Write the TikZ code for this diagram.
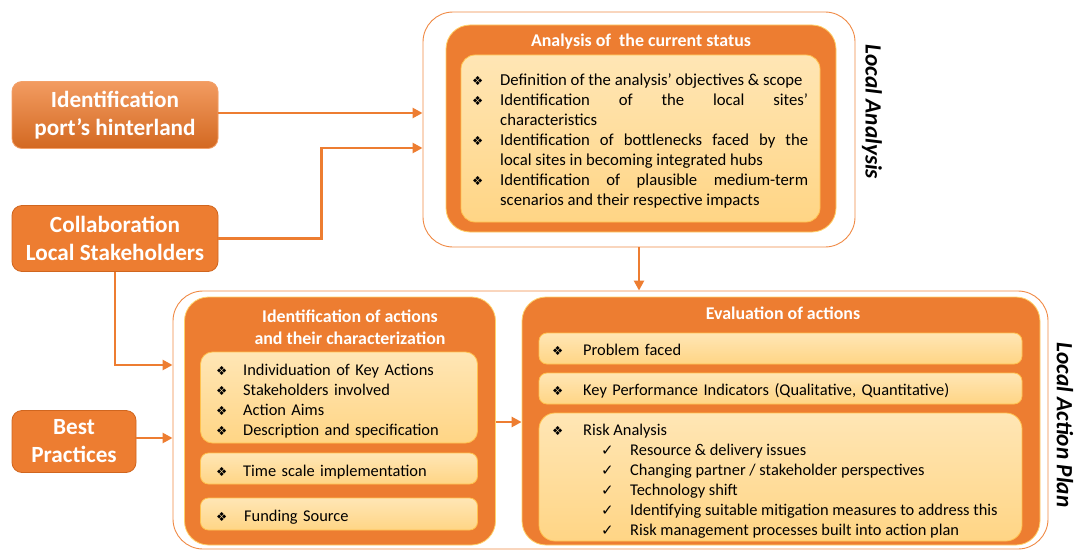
\documentclass[tikz,border=0pt]{standalone}
\usepackage{fontspec}
\setmainfont{Carlito}
\newfontfamily\djv{DejaVu Sans}
\usetikzlibrary{arrows.meta}
\definecolor{org}{HTML}{ED7D31}
\definecolor{orgline}{HTML}{F08A45}
\definecolor{orgdark}{HTML}{D0661F}
\definecolor{ltop}{HTML}{FFE6B5}
\definecolor{lbot}{HTML}{FFD585}
\definecolor{lborder}{HTML}{FFC24F}
\definecolor{orgborder}{HTML}{FFD36B}
\newcommand{\dia}{{\djv\fontsize{12.5}{12.5}\selectfont ❖}}
\newcommand{\chk}{{\djv\fontsize{15}{15}\selectfont ✓}}
\newcommand{\bodyfont}{\fontsize{16.4}{20}\selectfont\hyphenpenalty=10000\exhyphenpenalty=10000\tolerance=9999}
\newcommand{\ditem}[2]{\par\noindent\hangindent=#1\hangafter=1\makebox[#1][l]{\dia}#2\par}
\tikzset{
  outerbox/.style={draw=orgline, line width=0.9pt, fill=white, rounded corners=30pt, inner sep=0pt},
  orgbox/.style={draw=orgborder, line width=0.8pt, fill=org, rounded corners=24pt, inner sep=0pt},
  lightbox/.style={draw=lborder, line width=0.8pt, top color=ltop, bottom color=lbot, rounded corners=#1, inner sep=0pt},
  lightbox/.default=10pt,
  srcbox/.style={draw=orgdark, line width=0.8pt, fill=org, rounded corners=10pt, inner sep=0pt, align=center,
    text=white, font=\bfseries\fontsize{23.2}{28}\selectfont},
  titletext/.style={text=white, font=\bfseries\fontsize{17.9}{22}\selectfont, align=center, inner sep=0pt},
  bodytext/.style={font=\bodyfont, inner sep=0pt, anchor=north west},
  sidelabel/.style={rotate=-90, font=\bfseries\itshape\fontsize{23.3}{23.3}\selectfont, inner sep=0pt},
  arr/.style={draw=org, line width=2.6pt, -{Triangle[length=10pt,width=10pt]}},
}
\begin{document}
\begin{tikzpicture}[x=1pt,y=-1pt]
\useasboundingbox (0,0) rectangle (1075,551);

% top group
\node[outerbox, minimum width=432pt, minimum height=235pt] (topouter) at (639,129.5) {};
\node[orgbox, minimum width=390pt, minimum height=207pt] (toporg) at (641,128.5) {};
\node[titletext] (toptitle) at (641,42) {Analysis of~ the current status};
\node[lightbox=14pt, minimum width=359pt, minimum height=167pt] (toplight) at (640.5,138.5) {};
\node[bodytext, text width=336pt, align=justify, font=\fontsize{16.7}{20}\selectfont] (toplist) at (472,65) {%
\ditem{28pt}{Definition of the analysis’ objectives \& scope}%
\ditem{28pt}{Identification of the local sites’\linebreak characteristics}%
\ditem{28pt}{Identification of bottlenecks faced by the\linebreak local sites in becoming integrated hubs}%
\ditem{28pt}{Identification of plausible medium-term\linebreak scenarios and their respective impacts}};

% source boxes
\node[srcbox, minimum width=206pt, minimum height=67pt, top color=orgline!85!white, bottom color=orgdark!90!org, draw=orgline!80!white] (hint) at (115,115) {Identification\\port’s hinterland};
\node[srcbox, minimum width=206pt, minimum height=66pt] (collab) at (115,238.5) {Collaboration\\Local Stakeholders};
\node[srcbox, minimum width=124pt, minimum height=62pt] (best) at (74,441.5) {Best\\Practices};

% bottom group
\node[outerbox, minimum width=875pt, minimum height=258pt] (botouter) at (610.5,420) {};
\node[orgbox, minimum width=311pt, minimum height=248pt] (leftorg) at (340,421) {};
\node[titletext] (lefttitle) at (350,327) {Identification of actions\\and their characterization};
\node[lightbox=12pt, minimum width=277pt, minimum height=91pt] (lbox1) at (339,397.5) {};
\node[lightbox=8pt, minimum width=277pt, minimum height=31pt] (lbox2) at (339,468.5) {};
\node[lightbox=8pt, minimum width=277pt, minimum height=32pt] (lbox3) at (339,514) {};
\node[bodytext, text width=255pt] (llist) at (216,355) {%
\ditem{27pt}{Individuation of Key Actions}%
\ditem{27pt}{Stakeholders involved}%
\ditem{27pt}{Action Aims}%
\ditem{27pt}{Description and specification}};
\node[bodytext, text width=255pt] (ltime) at (216,456) {\ditem{27pt}{Time scale implementation}};
\node[bodytext, text width=255pt] (lfund) at (216,501) {\ditem{28pt}{Funding Source}};

\node[orgbox, minimum width=518pt, minimum height=248pt] (rightorg) at (781,421) {};
\node[titletext] (righttitle) at (783,313) {Evaluation of actions};
\node[lightbox=8pt, minimum width=483pt, minimum height=31pt] (rbox1) at (780.5,348.5) {};
\node[lightbox=8pt, minimum width=483pt, minimum height=31pt] (rbox2) at (780.5,388.5) {};
\node[lightbox=16pt, minimum width=483pt, minimum height=128pt] (rbox3) at (780.5,477) {};
\node[bodytext, text width=460pt] (rprob) at (552,335.5) {\ditem{31pt}{Problem faced}};
\node[bodytext, text width=460pt] (rkpi) at (552,375.5) {\ditem{31pt}{Key Performance Indicators (Qualitative, Quantitative)}};
\node[bodytext, align=left] (rrisk) at (552,424) {%
\makebox[31pt][l]{\dia}Risk Analysis\\
\hspace*{49pt}\makebox[29pt][l]{\chk}Resource \& delivery issues\\
\hspace*{49pt}\makebox[29pt][l]{\chk}Changing partner / stakeholder perspectives\\
\hspace*{49pt}\makebox[29pt][l]{\chk}Technology shift\\
\hspace*{49pt}\makebox[29pt][l]{\chk}Identifying suitable mitigation measures to address this\\
\hspace*{49pt}\makebox[29pt][l]{\chk}Risk management processes built into action plan};

% side labels
\node[sidelabel] (lalabel) at (872,112) {Local Analysis};
\node[sidelabel] (laplabel) at (1065,425) {Local Action Plan};

% connectors
\draw[arr] (hint.east |- 0,113) -- (topouter.west |- 0,113);
\draw[arr] (collab.east) -- ++(103,0) |- (topouter.west |- 0,148);
\draw[arr] (collab.south) |- (botouter.west |- 0,365);
\draw[arr] (best.east |- 0,438) -- (botouter.west |- 0,438);
\draw[arr] (topouter.south) -- (topouter.south |- botouter.north);
\draw[arr] (leftorg.east |- 0,422) -- (rightorg.west |- 0,422);
\end{tikzpicture}
\end{document}
